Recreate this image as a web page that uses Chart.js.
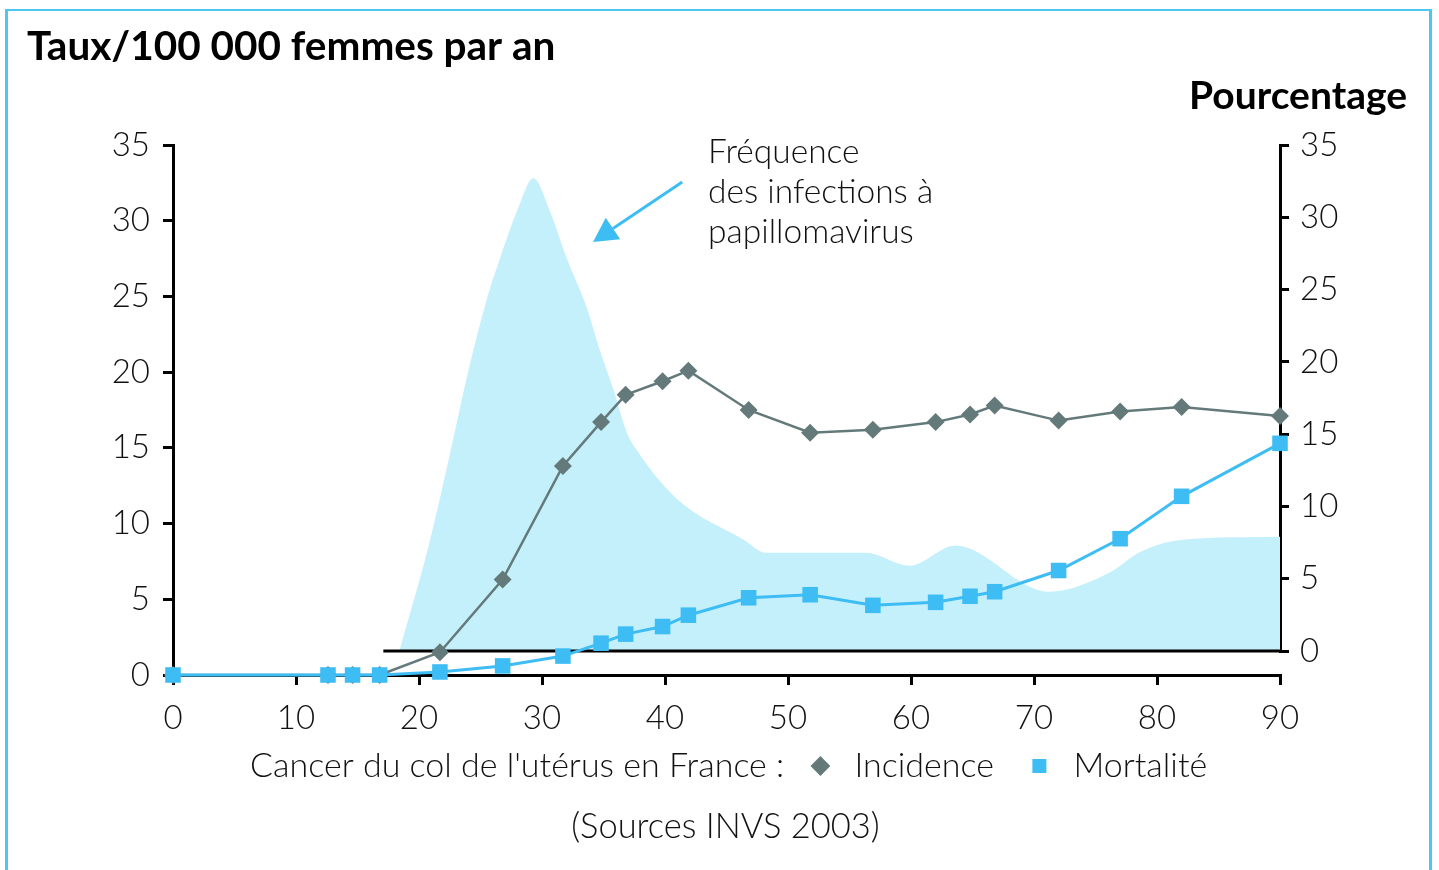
<!DOCTYPE html>
<html lang="fr">
<head>
  <meta charset="UTF-8" />
  <meta name="viewport" content="width=device-width, initial-scale=1.0" />
  <title>Cancer du col de l'utérus et papillomavirus</title>
  <script src="https://cdn.jsdelivr.net/npm/chart.js"></script>
  <style>
    html, body {
      margin: 0;
      padding: 0;
      background: #fff;
    }
    body {
      width: 1439px;
      height: 870px;
      position: relative;
      overflow: hidden;
      font-family: Lato, 'Open Sans', sans-serif;
    }
    .frame {
      position: absolute;
      left: 5px;
      top: 9px;
      width: 1421px;
      height: 900px;
      border: 3px solid #4cc6f3;
      border-top-width: 2px;
      border-bottom: none;
    }
    .chart-box {
      position: absolute;
      left: 0;
      top: 0;
      width: 1439px;
      height: 870px;
    }
    .source {
      position: absolute;
      left: 6px;
      width: 1439px;
      top: 808px;
      text-align: center;
      font-size: 34.5px;
      font-weight: 300;
      line-height: 34px;
      color: #111;
    }
  </style>
</head>
<body>
  <div class="chart-box"><canvas id="hpvChart"></canvas></div>
  <div class="frame"></div>
  <div class="source">(Sources INVS 2003)</div>

  <script>
    // Cancer du col : âge (x) et taux pour 100 000 femmes (axe de gauche)
    const ages = [0, 12.6, 14.6, 16.8, 21.7, 26.8, 31.7, 34.8, 36.8, 39.8, 41.9, 46.8, 51.8, 56.9, 62, 64.8, 66.8, 72, 77, 82, 90];
    const incidence = [0, 0, 0, 0, 1.5, 6.3, 13.8, 16.7, 18.5, 19.4, 20.1, 17.5, 16.0, 16.2, 16.7, 17.2, 17.8, 16.8, 17.4, 17.7, 17.1];
    const mortality = [0, 0, 0, 0, 0.2, 0.6, 1.25, 2.1, 2.7, 3.2, 3.95, 5.1, 5.3, 4.6, 4.8, 5.2, 5.5, 6.9, 9.0, 11.8, 15.3];

    // Fréquence des infections à papillomavirus (pourcentage, axe de droite)
    const hpvAges = [18.4, 20.7, 22.3, 24.1, 25.5, 26.6, 28.0, 29.3, 30.7, 32.0, 33.7, 34.7, 35.8, 36.9, 37.7, 41.0, 46.4, 48.2, 56.3, 59.9, 63.6, 71.2, 76.3, 78.5, 82.1, 90];
    const hpvPercent = [0, 7.0, 12.8, 19.7, 24.3, 27.2, 30.5, 32.7, 30.3, 27.2, 23.6, 20.8, 18.1, 15.1, 13.9, 10.5, 7.7, 6.8, 6.8, 5.9, 7.3, 4.1, 5.5, 6.8, 7.7, 7.9];
    const hpvAxisAges = [17.1, 90];
    const hpvAxisValues = [0, 0];

    const xTickStep = 10;
    const yTickStep = 5;

    const leftTitle = 'Taux/100 000 femmes par an';
    const rightTitle = 'Pourcentage';
    const legendPrefix = "Cancer du col de l'utérus en France :";
    const seriesNames = ['Incidence', 'Mortalité'];
    const noteLines = ['Fréquence', 'des infections à', 'papillomavirus'];

    const GREY = '#647a7a';
    const BLUE = '#3ebdf4';
    const AREA = '#c4f0fc';
    const INK = '#111';

    const toPoints = (xs, ys) => xs.map((v, i) => ({ x: v, y: ys[i] }));

    Chart.defaults.font.family = 'Lato, "Open Sans", sans-serif';
    Chart.defaults.color = INK;

    const tickFont = { size: 33, weight: '300' };

    // note + flèche, placées en unités des axes x / y
    const notePlugin = {
      id: 'hpvNote',
      afterDatasetsDraw(chart) {
        const { ctx, scales: { x, y } } = chart;
        ctx.save();
        ctx.font = '300 33.5px Lato, "Open Sans", sans-serif';
        ctx.fillStyle = INK;
        ctx.textBaseline = 'alphabetic';
        const tx = x.getPixelForValue(43.5);
        const ty = y.getPixelForValue(33.8);
        noteLines.forEach((line, i) => ctx.fillText(line, tx, ty + i * 40));

        const x1 = x.getPixelForValue(41.4), y1 = y.getPixelForValue(32.55);
        const x2 = x.getPixelForValue(34.15), y2 = y.getPixelForValue(28.6);
        const ang = Math.atan2(y2 - y1, x2 - x1);
        const head = 24, half = 13;
        const bx = x2 - head * Math.cos(ang), by = y2 - head * Math.sin(ang);
        ctx.strokeStyle = BLUE;
        ctx.fillStyle = BLUE;
        ctx.lineWidth = 3;
        ctx.beginPath();
        ctx.moveTo(x1, y1);
        ctx.lineTo(bx, by);
        ctx.stroke();
        ctx.beginPath();
        ctx.moveTo(x2, y2);
        ctx.lineTo(bx + half * Math.sin(ang), by - half * Math.cos(ang));
        ctx.lineTo(bx - half * Math.sin(ang), by + half * Math.cos(ang));
        ctx.closePath();
        ctx.fill();
        ctx.restore();
      }
    };

    const ctx = document.getElementById('hpvChart').getContext('2d');

    new Chart(ctx, {
      type: 'line',
      data: {
        datasets: [
          {
            label: seriesNames[1],
            data: toPoints(ages, mortality),
            yAxisID: 'y',
            borderColor: BLUE,
            borderWidth: 3,
            pointStyle: 'rect',
            pointRadius: 11,
            pointBackgroundColor: BLUE,
            pointBorderWidth: 0,
            tension: 0,
            clip: false
          },
          {
            label: seriesNames[0],
            data: toPoints(ages, incidence),
            yAxisID: 'y',
            borderColor: GREY,
            borderWidth: 2.5,
            pointStyle: 'rectRot',
            pointRadius: 9,
            pointBackgroundColor: GREY,
            pointBorderWidth: 0,
            tension: 0,
            clip: false
          },
          {
            label: 'axe',
            data: toPoints(hpvAxisAges, hpvAxisValues),
            yAxisID: 'y2',
            borderColor: '#000',
            borderWidth: 3,
            pointRadius: 0,
            clip: false
          },
          {
            label: noteLines.join(' '),
            data: toPoints(hpvAges, hpvPercent),
            yAxisID: 'y2',
            backgroundColor: AREA,
            borderWidth: 0,
            pointRadius: 0,
            fill: 'origin',
            cubicInterpolationMode: 'monotone'
          }
        ]
      },
      options: {
        responsive: true,
        maintainAspectRatio: false,
        animation: false,
        events: [],
        layout: {
          padding: { left: 27, right: 32, top: 0, bottom: 77 }
        },
        plugins: {
          title: {
            display: true,
            text: leftTitle,
            align: 'start',
            color: '#000',
            font: { size: 40.5, weight: 'bold', lineHeight: '48px' },
            padding: { top: 23, bottom: 1 }
          },
          subtitle: {
            display: true,
            text: rightTitle,
            align: 'end',
            color: '#000',
            font: { size: 39, weight: 'bold', lineHeight: '48px' },
            padding: { top: 0, bottom: 25 }
          },
          legend: {
            position: 'bottom',
            labels: {
              usePointStyle: true,
              boxHeight: 14,
              padding: 10,
              color: INK,
              font: { size: 34, weight: '300' },
              generateLabels: () => [
                { text: legendPrefix + ' ', fillStyle: 'transparent', strokeStyle: 'transparent', lineWidth: 0, pointStyle: 'rect', fontColor: INK },
                { text: seriesNames[0] + '  ', fillStyle: GREY, strokeStyle: GREY, lineWidth: 0, pointStyle: 'rectRot', fontColor: INK },
                { text: seriesNames[1] + '   ', fillStyle: BLUE, strokeStyle: BLUE, lineWidth: 0, pointStyle: 'rect', fontColor: INK }
              ]
            }
          },
          tooltip: { enabled: false }
        },
        scales: {
          x: {
            type: 'linear',
            position: 'bottom',
            min: 0,
            max: 90,
            ticks: { stepSize: xTickStep, font: tickFont, color: INK, padding: 14, maxRotation: 0 },
            grid: { drawOnChartArea: false, color: '#000', lineWidth: 3, tickLength: 10 },
            border: { color: '#000', width: 3 },
            afterFit: (s) => { s.height = 64; }
          },
          y: {
            position: 'left',
            min: 0,
            max: 35,
            ticks: { stepSize: yTickStep, font: tickFont, color: INK, padding: 13 },
            grid: { drawOnChartArea: false, color: '#000', lineWidth: 3, tickLength: 10 },
            border: { color: '#000', width: 3 },
            afterFit: (s) => { s.width = 146; }
          },
          y2: {
            position: 'right',
            stack: 'pct',
            stackWeight: 507,
            weight: 0,
            min: 0,
            max: 35,
            ticks: { stepSize: yTickStep, font: tickFont, color: INK, padding: 11 },
            grid: { drawOnChartArea: false, color: '#000', lineWidth: 3, tickLength: 9 },
            border: { color: '#000', width: 3 },
            afterFit: (s) => { s.width = 127; }
          },
          y3: {
            position: 'right',
            stack: 'pct',
            stackWeight: 24,
            weight: 1,
            display: false
          }
        }
      },
      plugins: [notePlugin]
    });
  </script>
</body>
</html>
